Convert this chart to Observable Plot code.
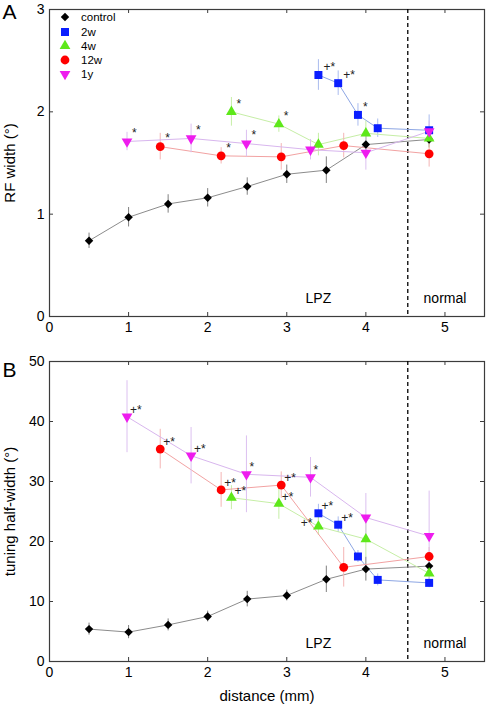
<!DOCTYPE html>
<html><head><meta charset="utf-8">
<script src="https://cdn.jsdelivr.net/npm/d3@7"></script>
<script src="https://cdn.jsdelivr.net/npm/@observablehq/plot@0.6"></script>
<style>
body{margin:0;background:#fff;font-family:"Liberation Sans",Arial,sans-serif}
#wrap{position:relative;width:487px;height:706px;overflow:hidden}
#wrap svg{display:block}
.lg{position:absolute;left:57px;height:14px;display:flex;align-items:center;font-size:11.5px;color:#000}
.lg span{margin-left:8px}
</style></head><body><div id="wrap"></div>
<script>
// ---------- labels & ticks ----------
const groups = ["control", "2w", "4w", "12w", "1y"];
const xTicks = [0, 1, 2, 3, 4, 5];
const yTicksA = [0, 1, 2, 3];
const yTicksB = [0, 10, 20, 30, 40, 50];
const regionLabels = ["LPZ", "normal"];
const regionCenters = [3.4, 5.0];
const boundary = 4.53;

// ---------- distances (mm) ----------
const distControl = [0.5, 1, 1.5, 2, 2.5, 3, 3.5, 4, 4.8];
const dist2w = [3.40, 3.65, 3.90, 4.15, 4.8];
const dist4w = [2.30, 2.90, 3.40, 4.0, 4.8];
const dist12w = [1.40, 2.17, 2.93, 3.72, 4.8];
const dist1y = [0.98, 1.79, 2.49, 3.30, 4.0, 4.8];

// ---------- Panel A: RF width (deg) ----------
const rfControl = [0.74, 0.97, 1.10, 1.16, 1.27, 1.39, 1.43, 1.68, 1.73];
const rfControlErr = [0.075, 0.095, 0.09, 0.09, 0.085, 0.09, 0.13, 0.10, 0.08];
const rfControlSig = ["", "", "", "", "", "", "", "", ""];
const rf2w = [2.36, 2.28, 1.97, 1.84, 1.82];
const rf2wErr = [0.15, 0.12, 0.11, 0.09, 0.15];
const rf2wSig = ["+*", "+*", "*", "", ""];
const rf4w = [2.00, 1.88, 1.68, 1.79, 1.74];
const rf4wErr = [0.14, 0.08, 0.11, 0.12, 0.10];
const rf4wSig = ["*", "*", "", "", ""];
const rf12w = [1.66, 1.57, 1.56, 1.67, 1.59];
const rf12wErr = [0.13, 0.08, 0.13, 0.12, 0.13];
const rf12wSig = ["*", "*", "", "", ""];
const rf1y = [1.71, 1.74, 1.69, 1.63, 1.60, 1.81];
const rf1yErr = [0.09, 0.14, 0.13, 0.10, 0.17, 0.10];
const rf1ySig = ["*", "*", "*", "", "", ""];

// ---------- Panel B: tuning half-width (deg) ----------
const tuControl = [5.4, 4.9, 6.1, 7.5, 10.4, 11.0, 13.7, 15.4, 15.9];
const tuControlErr = [1.0, 1.1, 1.0, 0.9, 1.3, 0.9, 2.2, 2.0, 1.0];
const tuControlSig = ["", "", "", "", "", "", "", "", ""];
const tu2w = [24.7, 22.8, 17.5, 13.6, 13.1];
const tu2wErr = [1.5, 1.3, 1.0, 1.0, 0.8];
const tu2wSig = ["+*", "+*", "", "", ""];
const tu4w = [27.3, 26.3, 22.5, 20.4, 14.7];
const tu4wErr = [2.0, 2.6, 1.5, 3.0, 1.0];
const tu4wSig = ["+*", "+*", "+*", "", ""];
const tu4wSigLeft = [false, false, true, false, false];
const tu12w = [35.4, 28.6, 29.4, 15.7, 17.5];
const tu12wErr = [3.3, 2.9, 2.2, 3.3, 1.5];
const tu12wSig = ["+*", "+*", "+*", "", ""];
const tu1y = [40.8, 34.3, 31.2, 30.7, 24.0, 20.9];
const tu1yErr = [6.0, 4.7, 6.4, 3.3, 4.0, 7.5];
const tu1ySig = ["+*", "+*", "*", "*", "", ""];

// ---------- styles ----------
const triangleDown = {
  draw(ctx, size) {
    const s3 = Math.sqrt(3);
    const y = -Math.sqrt(size / (s3 * 3));
    ctx.moveTo(0, -y * 2);
    ctx.lineTo(-s3 * y, y);
    ctx.lineTo(s3 * y, y);
    ctx.closePath();
  }
};
const style = {
  control: {fill: "#000000", line: "#8c8c8c", err: "#808080", symbol: d3.symbolDiamond2, r: 3.8},
  "2w": {fill: "#0a1eff", line: "#8da6e4", err: "#aabbee", symbol: d3.symbolSquare, r: 4.5},
  "4w": {fill: "#5ee81a", line: "#c6eea6", err: "#c6eea6", symbol: d3.symbolTriangle, r: 4.0},
  "12w": {fill: "#ff0000", line: "#f2a2a2", err: "#f4b4b4", symbol: d3.symbolCircle, r: 4.4},
  "1y": {fill: "#ee1cee", line: "#d8b6ee", err: "#dcc0f0", symbol: triangleDown, r: 4.0}
};

function build(dists, vals, errs, sigs, lefts) {
  const rows = [];
  groups.forEach((g, gi) => {
    dists[gi].forEach((d, i) => rows.push({
      g, d, v: vals[gi][i], e: errs[gi][i], s: sigs[gi][i],
      left: lefts && lefts[gi] ? lefts[gi][i] : false
    }));
  });
  return rows;
}
const dists = [distControl, dist2w, dist4w, dist12w, dist1y];
const rowsA = build(dists,
  [rfControl, rf2w, rf4w, rf12w, rf1y],
  [rfControlErr, rf2wErr, rf4wErr, rf12wErr, rf1yErr],
  [rfControlSig, rf2wSig, rf4wSig, rf12wSig, rf1ySig]);
const rowsB = build(dists,
  [tuControl, tu2w, tu4w, tu12w, tu1y],
  [tuControlErr, tu2wErr, tu4wErr, tu12wErr, tu1yErr],
  [tuControlSig, tu2wSig, tu4wSig, tu12wSig, tu1ySig],
  [null, null, tu4wSigLeft, null, null]);

const W = 487, ML = 49, MR = 3;
const font = "'Liberation Sans', Arial, sans-serif";
const fmt = d => String(d);

function panel(o) {
  const innerH = o.height - o.marginTop - o.marginBottom;
  const innerW = W - ML - MR;
  const frameColor = "#3c3c3c";
  const marks = [
    Plot.frame({stroke: frameColor, strokeWidth: 1.2}),
    Plot.ruleX(xTicks, {x: d => d, stroke: frameColor, insetTop: innerH - 4}),
    Plot.ruleX(xTicks, {x: d => d, stroke: frameColor, insetBottom: innerH - 4}),
    Plot.ruleY(o.yTicks, {y: d => d, stroke: frameColor, insetRight: innerW - 4}),
    Plot.ruleY(o.yTicks, {y: d => d, stroke: frameColor, insetLeft: innerW - 4}),
    Plot.axisX({ticks: xTicks, tickFormat: fmt, tickSize: 0, tickPadding: 6, fontSize: 14, label: null}),
    Plot.axisY({ticks: o.yTicks, tickFormat: fmt, tickSize: 0, tickPadding: 5, fontSize: 14, label: null}),
    Plot.ruleX([boundary], {x: d => d, stroke: "#000", strokeWidth: 1.3, strokeDasharray: "4,3"}),
    Plot.text(regionLabels, {x: (d, i) => regionCenters[i], text: d => d, frameAnchor: "bottom", lineAnchor: "middle", dy: -18, fontSize: 14})
  ];
  for (const g of groups) {
    const data = o.rows.filter(r => r.g === g);
    const st = style[g];
    marks.push(Plot.line(data, {x: "d", y: "v", stroke: st.line, strokeWidth: 1}));
    marks.push(Plot.ruleX(data, {x: "d", y1: r => r.v - r.e, y2: r => r.v + r.e, stroke: st.err, strokeWidth: 1}));
  }
  for (const g of groups) {
    const data = o.rows.filter(r => r.g === g);
    const st = style[g];
    marks.push(Plot.dot(data, {x: "d", y: "v", symbol: st.symbol, r: st.r, fill: st.fill, stroke: "none"}));
  }
  marks.push(Plot.text(o.rows.filter(r => r.s && !r.left), {x: "d", y: "v", text: "s", textAnchor: "start", dx: o.sigDx, dy: o.sigDy, fontSize: 12, fill: "#222"}));
  marks.push(Plot.text(o.rows.filter(r => r.s && r.left), {x: "d", y: "v", text: "s", textAnchor: "end", dx: -6, dy: -3, fontSize: 12, fill: "#222"}));
  marks.push(Plot.text([o.yLabel], {text: d => d, frameAnchor: "left", textAnchor: "middle", lineAnchor: "middle", rotate: -90, dx: -39, fontSize: 15}));
  marks.push(Plot.text([o.letter], {text: d => d, frameAnchor: "top-left", textAnchor: "start", lineAnchor: "middle", dx: -47, dy: o.letterDy, fontSize: 21}));
  if (o.xLabel) marks.push(Plot.text([o.xLabel], {text: d => d, frameAnchor: "bottom", textAnchor: "middle", lineAnchor: "middle", dy: 35, fontSize: 15}));
  return Plot.plot({
    width: W, height: o.height,
    marginLeft: ML, marginRight: MR, marginTop: o.marginTop, marginBottom: o.marginBottom,
    x: {domain: [0, 5.5]},
    y: {domain: o.yDomain},
    style: {fontFamily: font, fontSize: "14px", background: "white", color: "#000"},
    marks
  });
}

const wrap = document.getElementById("wrap");
wrap.appendChild(panel({rows: rowsA, yDomain: [0, 3], yTicks: yTicksA, height: 345, marginTop: 9, marginBottom: 29,
  yLabel: "RF width (°)", letter: "A", letterDy: 3, sigDx: 5, sigDy: -8}));
wrap.appendChild(panel({rows: rowsB, yDomain: [0, 50], yTicks: yTicksB, height: 361, marginTop: 16, marginBottom: 45,
  yLabel: "tuning half-width (°)", letter: "B", letterDy: 9, sigDx: 3, sigDy: -7, xLabel: "distance (mm)"}));

// legend inside panel A
groups.forEach((g, i) => {
  const st = style[g];
  const row = document.createElement("div");
  row.className = "lg";
  row.style.top = (10.3 + i * 14.2) + "px";
  const path = d3.symbol(st.symbol, Math.PI * st.r * st.r)();
  row.innerHTML = `<svg width="16" height="14" viewBox="-8 -7 16 14"><path d="${path}" fill="${st.fill}"></path></svg><span>${g}</span>`;
  wrap.appendChild(row);
});
</script></body></html>
